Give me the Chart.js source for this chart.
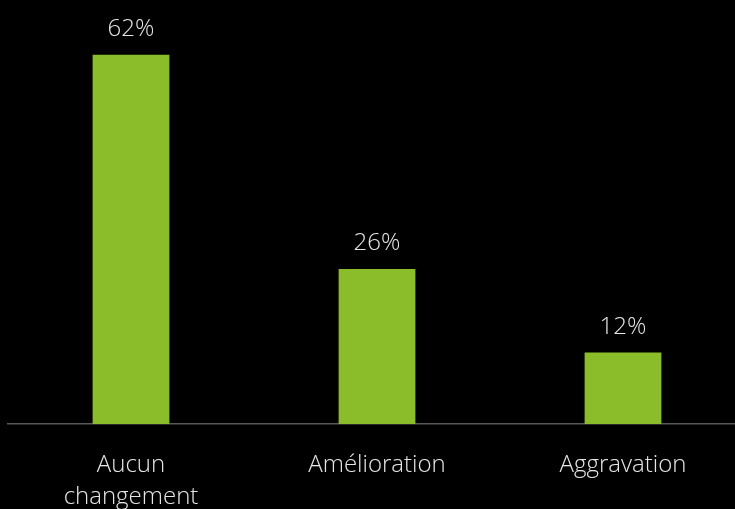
<!DOCTYPE html>
<html>
<head>
<meta charset="utf-8">
<script src="https://cdn.jsdelivr.net/npm/chart.js@4/dist/chart.umd.min.js"></script>
<style>
  html, body { margin: 0; padding: 0; background: #000; overflow: hidden; }
  #wrap { position: relative; width: 746px; height: 509px; }
</style>
</head>
<body>
<div id="wrap"><canvas id="barChart"></canvas></div>
<script>
/* =========================
   DONNÉES
========================= */
const categories = [["Aucun", "changement"], "Amélioration", "Aggravation"];
const values = [62, 26, 12];
const yMax = 70;

const BAR_COLOR = "#8bbd2a";
const TEXT_COLOR = "#e6e6e6";
const FONT = "'Open Sans', sans-serif";

// étiquettes de valeur au-dessus des barres
const valueLabels = {
  id: "valueLabels",
  afterDatasetsDraw(chart) {
    const { ctx } = chart;
    const meta = chart.getDatasetMeta(0);
    ctx.save();
    ctx.fillStyle = TEXT_COLOR;
    ctx.font = "300 24px " + FONT;
    ctx.textAlign = "center";
    ctx.textBaseline = "alphabetic";
    meta.data.forEach((bar, i) => {
      ctx.fillText(values[i] + "%", bar.x, bar.y - 19);
    });
    ctx.restore();
  }
};

const barCtx = document.getElementById("barChart");

if (barCtx) {
  new Chart(barCtx, {
    type: "bar",
    data: {
      labels: categories,
      datasets: [
        {
          data: values,
          backgroundColor: BAR_COLOR,
          borderWidth: 0,
          categoryPercentage: 1,
          barPercentage: 0.312
        }
      ]
    },
    options: {
      responsive: true,
      maintainAspectRatio: false,
      animation: false,
      layout: { padding: { left: 8, right: 0, top: 7, bottom: 0 } },
      plugins: {
        legend: { display: false },
        tooltip: { enabled: false }
      },
      scales: {
        x: {
          grid: { display: false, drawTicks: false },
          border: { color: "#595959", width: 1.5 },
          ticks: {
            color: TEXT_COLOR,
            font: { family: FONT, size: 24, weight: 300, lineHeight: 1.35 },
            padding: 25,
            maxRotation: 0,
            autoSkip: false
          },
          afterFit: (scale) => { scale.height = 85; }
        },
        y: {
          display: false,
          min: 0,
          max: yMax
        }
      }
    },
    plugins: [valueLabels]
  });
}
</script>
</body>
</html>
